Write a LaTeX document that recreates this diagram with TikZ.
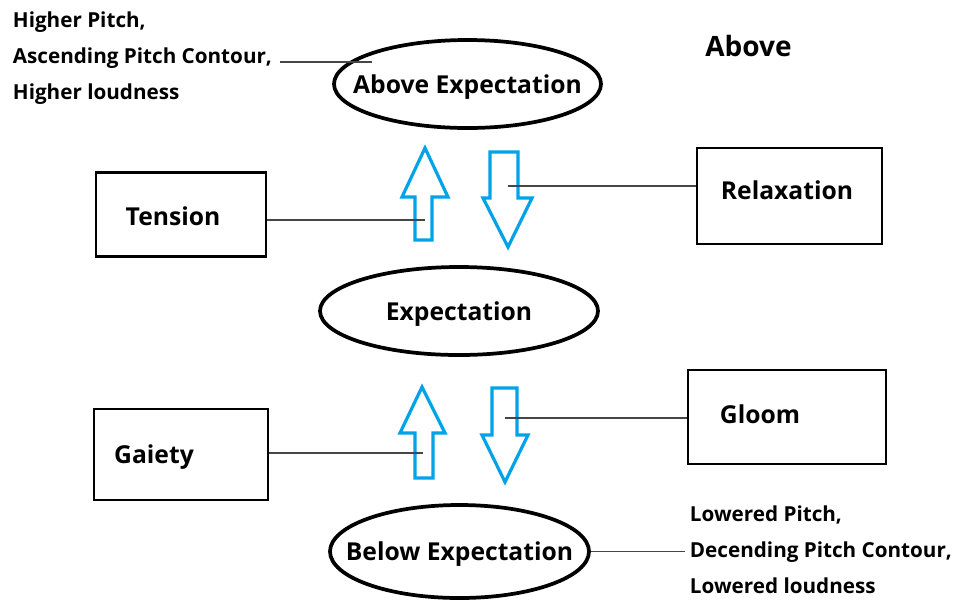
\documentclass[tikz,border=0pt]{standalone}
\usepackage{fontspec}
\setmainfont{Open Sans}
\usetikzlibrary{shapes.geometric}

\tikzset{every picture/.style={line width=0.75pt}}
\tikzset{
	oval/.style={draw, ellipse, line width=2.8pt, inner sep=0pt},
	box/.style={draw, rectangle, line width=2.2pt, inner sep=0pt},
	blockarrow/.style={draw={rgb, 255:red, 0; green, 162; blue, 232}, line width=2.4pt, line join=miter},
	leader/.style={draw={rgb, 255:red, 70; green, 70; blue, 70}, line width=0.9pt},
	big/.style={font=\fontsize{18.5}{22}\selectfont\bfseries},
	ovaltext/.style={big, yshift=-2.2pt},
	small/.style={font=\fontsize{15.5}{27}\selectfont\bfseries, align=left, anchor=west}
}

\begin{document}
\begin{tikzpicture}[x=0.75pt,y=0.75pt,yscale=-1,xscale=1]
	\useasboundingbox (0,0) rectangle (957,601);

	%Ellipses
	\node [oval, minimum width=200.25pt, minimum height=66pt, label={[ovaltext]center:Above Expectation}] (above) at (467.5,84) {};
	\node [oval, minimum width=208.5pt, minimum height=66pt, label={[ovaltext]center:Expectation}] (expect) at (459,311) {};
	\node [oval, minimum width=194.25pt, minimum height=69.75pt, label={[ovaltext]center:Below Expectation}] (below) at (459.5,551.5) {};

	%Boxes
	\node [box, minimum width=127.5pt, minimum height=63pt] (tension) at (181,214.5) {};
	\node [box, minimum width=138.75pt, minimum height=72pt] (relax) at (789.5,196) {};
	\node [box, minimum width=130.5pt, minimum height=68.25pt] (gaiety) at (181,454.5) {};
	\node [box, minimum width=148.5pt, minimum height=70.5pt] (gloom) at (787,417) {};

	% Text Node
	\node [big] (tensiontxt) at (173,216) {Tension};
	% Text Node
	\node [big] (relaxtxt) at (787,190) {Relaxation};
	% Text Node
	\node [big] (gaietytxt) at (154,457) {Gaiety};
	% Text Node
	\node [big] (gloomtxt) at (760,414) {Gloom};
	% Text Node
	\node [big, font=\fontsize{21}{24}\selectfont\bfseries] (abovetxt) at (748.5,46) {Above};
	% Text Node
	\node [small] (higher) at (8,58) {Higher Pitch,\\Ascending Pitch Contour,\\Higher loudness};
	% Text Node
	\node [small] (lowered) at (685,549.5) {Lowered Pitch,\\Decending Pitch Contour,\\Lowered loudness};

	%Block arrows, upper pair
	\draw [blockarrow] (425,148) -- (448,197) -- (432,197) -- (432,240) -- (415,240) -- (415,197) -- (402,197) -- cycle ;
	\draw [blockarrow] (490,152) -- (518,152) -- (518,198) -- (532,198) -- (508,247) -- (483,198) -- (490,198) -- cycle ;
	%Block arrows, lower pair
	\draw [blockarrow] (422,387) -- (445,433) -- (433,433) -- (433,478) -- (415,478) -- (415,433) -- (400,433) -- cycle ;
	\draw [blockarrow] (492,388) -- (517,388) -- (517,435) -- (528,435) -- (505,482) -- (482,435) -- (492,435) -- cycle ;

	\coordinate (upA) at (425,220);
	\coordinate (downA) at (508,186);
	\coordinate (upB) at (423,453);
	\coordinate (downB) at (505,418);
	\coordinate (higherend) at (372,62);

	%Straight Lines
	\draw [leader] (tension.east |- upA) -- (upA) ;
	\draw [leader] (relax.west |- downA) -- (downA) ;
	\draw [leader] (gaiety.east |- upB) -- (upB) ;
	\draw [leader] (gloom.west |- downB) -- (downB) ;
	\draw [leader] (280,62) -- (higherend) ;
	\draw [leader] (below.east) -- (lowered.west |- below.east) ;

\end{tikzpicture}
\end{document}
